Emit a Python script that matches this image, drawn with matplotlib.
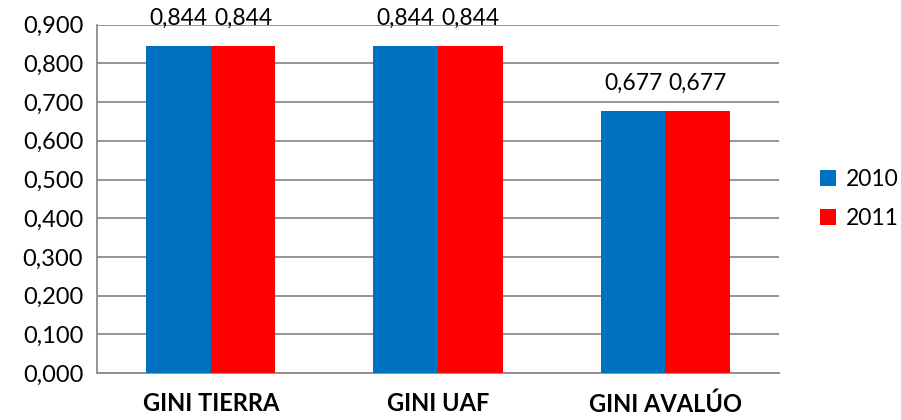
import numpy as np
import matplotlib.pyplot as plt
from matplotlib.ticker import FuncFormatter

categories = ['GINI TIERRA', 'GINI UAF', 'GINI AVALÚO']
years = ['2010', '2011']
values_2010 = [0.844, 0.844, 0.677]
values_2011 = [0.844, 0.844, 0.677]
colors = ['#0070C0', '#FF0000']

plt.rcParams['font.family'] = ['Lato', 'DejaVu Sans']

fig = plt.figure(figsize=(9.01, 4.2), dpi=100)
ax = fig.add_axes([0.1077, 0.112, 0.757, 0.829])

x = np.arange(len(categories))
width = 0.284
series = [values_2010, values_2011]
for i, (vals, year, color) in enumerate(zip(series, years, colors)):
    offset = (i - 0.5) * width
    bars = ax.bar(x + offset, vals, width, color=color, label=year, zorder=3)
    for b, v in zip(bars, vals):
        ax.text(b.get_x() + b.get_width() / 2, v + 0.045,
                f'{v:.3f}'.replace('.', ','), ha='center', va='bottom',
                fontsize=16.5, zorder=4)

ax.set_xlim(-0.5, len(categories) - 0.5)
ax.set_ylim(0, 0.9)
ax.set_yticks(np.arange(0, 0.91, 0.1))
ax.yaxis.set_major_formatter(FuncFormatter(lambda v, p: f'{v:.3f}'.replace('.', ',')))
ax.set_xticks(x)
ax.set_xticklabels(categories, fontsize=17, fontweight='bold')
ax.tick_params(axis='y', labelsize=17, length=0, pad=10)
ax.tick_params(axis='x', length=0, pad=14)

ax.grid(axis='y', color='#8c8c8c', linewidth=1.3, zorder=0)
for side in ['top', 'right']:
    ax.spines[side].set_visible(False)
for side in ['left', 'bottom']:
    ax.spines[side].set_color('#8c8c8c')
    ax.spines[side].set_linewidth(1.3)

ax.legend(loc='center left', bbox_to_anchor=(1.03, 0.5), frameon=False,
          fontsize=16.5, handlelength=0.7, handleheight=0.7,
          handletextpad=0.4, labelspacing=0.8)

fig.savefig('out.png', dpi=100)
